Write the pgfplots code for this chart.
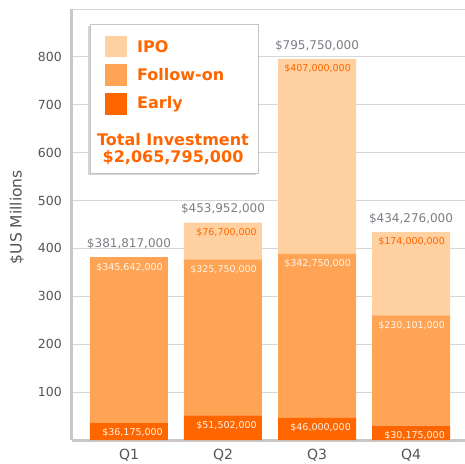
\documentclass[border=0pt]{standalone}
\usepackage{fontspec}
\setmainfont{DejaVu Sans}
\usepackage{pgfplots}
\pgfplotsset{compat=1.18}
\definecolor{early}{HTML}{FF6600}
\definecolor{follow}{HTML}{FFA354}
\definecolor{ipo}{HTML}{FFD0A0}
\definecolor{gridgray}{HTML}{D6D6D6}
\definecolor{axisgray}{HTML}{C8C8C8}
\definecolor{totalgray}{HTML}{7C7C84}
\definecolor{ticktext}{HTML}{555555}
\definecolor{bordergray}{HTML}{C4C4C4}
\definecolor{shadowgray}{HTML}{D4D4D4}
\definecolor{innerwhite}{HTML}{FFF4EA}
\pgfplotsset{
  seglabel/.style={
    visualization depends on={rawy \as \rawy},
    every node near coord/.append style={anchor=east, inner sep=0pt, xshift=34pt,
      yshift={\rawy*0.239444pt-10pt}, font=\fontsize{9.5}{11}\selectfont, text=#1}},
}
\begin{document}
\begin{tikzpicture}
\begin{axis}[
  at={(0pt,0pt)}, anchor=south west,
  scale only axis, width=393pt, height=431pt,
  ybar stacked, bar width=78pt,
  xmin=-0.606, xmax=3.574, ymin=0, ymax=900,
  xtick={0,1,2,3}, xticklabels={Q1,Q2,Q3,Q4},
  ytick={100,200,300,400,500,600,700,800,900},
  yticklabels={100,200,300,400,500,600,700,800,{}},
  /pgf/number format/assume math mode=true,
  ymajorgrids, grid style={draw=gridgray, line width=1pt},
  axis x line*=bottom, axis y line*=left,
  axis line style={draw=axisgray, line width=3pt, -},
  major tick length=0pt,
  yticklabel style={inner sep=0pt, anchor=east, xshift=-10pt, text=ticktext, font=\fontsize{12.5}{14}\selectfont},
  xticklabel style={inner sep=0pt, anchor=center, yshift=-15pt, text=ticktext, font=\fontsize{14}{16}\selectfont},
  ylabel={\$US Millions},
  every axis y label/.style={at={(axis description cs:0,0.517)}, rotate=90, anchor=center, yshift=55pt, text=ticktext, font=\fontsize{15.5}{18}\selectfont},
  point meta=explicit symbolic,
  nodes near coords={\pgfplotspointmeta},
]
% Early
\addplot[fill=early, draw=none, seglabel=innerwhite]
  coordinates {(0,36.175) [\$36,175,000] (1,51.502) [\$51,502,000] (2,46.0) [\$46,000,000] (3,30.175) [\$30,175,000]};
% Follow-on
\addplot[fill=follow, draw=none, seglabel=innerwhite]
  coordinates {(0,345.642) [\$345,642,000] (1,325.75) [\$325,750,000] (2,342.75) [\$342,750,000] (3,230.101) [\$230,101,000]};
% IPO
\addplot[fill=ipo, draw=none, seglabel=early]
  coordinates {(0,0) [{}] (1,76.7) [\$76,700,000] (2,407.0) [\$407,000,000] (3,174.0) [\$174,000,000]};
\end{axis}
% totals above the bars
\begin{axis}[
  at={(0pt,0pt)}, anchor=south west,
  scale only axis, width=393pt, height=431pt,
  hide axis, ybar, bar width=78pt, bar shift=0pt,
  xmin=-0.606, xmax=3.574, ymin=0, ymax=900,
  point meta=explicit symbolic,
  nodes near coords={\pgfplotspointmeta},
  every node near coord/.append style={anchor=center, inner sep=0pt, yshift=13.5pt, text=totalgray, font=\fontsize{12}{14}\selectfont},
]
\addplot[fill=none, draw=none]
  coordinates {(0,381.817) [\$381,817,000] (1,453.952) [\$453,952,000] (2,795.75) [\$795,750,000] (3,434.276) [\$434,276,000]};
\end{axis}
% legend box
\fill[shadowgray] (16pt,265pt) rectangle (184pt,414pt);
\draw[bordergray, fill=white, line width=0.8pt] (18pt,267pt) rectangle (186pt,416pt);
\fill[ipo] (33pt,383pt) rectangle (55pt,404pt);
\fill[follow] (33pt,354pt) rectangle (55pt,376pt);
\fill[early] (33pt,325pt) rectangle (55pt,347pt);
\begin{scope}[every node/.style={anchor=west, inner sep=0pt, text=early, font=\bfseries\fontsize{16}{18}\selectfont}]
\node at (65pt,393.5pt) {IPO};
\node at (65pt,365pt) {Follow-on};
\node at (65pt,336pt) {Early};
\end{scope}
\node[align=center, inner sep=0pt, text=early, font=\bfseries\fontsize{16}{17}\selectfont] at (101pt,290.5pt) {Total Investment\\\$2,065,795,000};
\pgfresetboundingbox
\path[use as bounding box] (-72pt,-23pt) rectangle (393pt,440pt);
\end{tikzpicture}
\end{document}
